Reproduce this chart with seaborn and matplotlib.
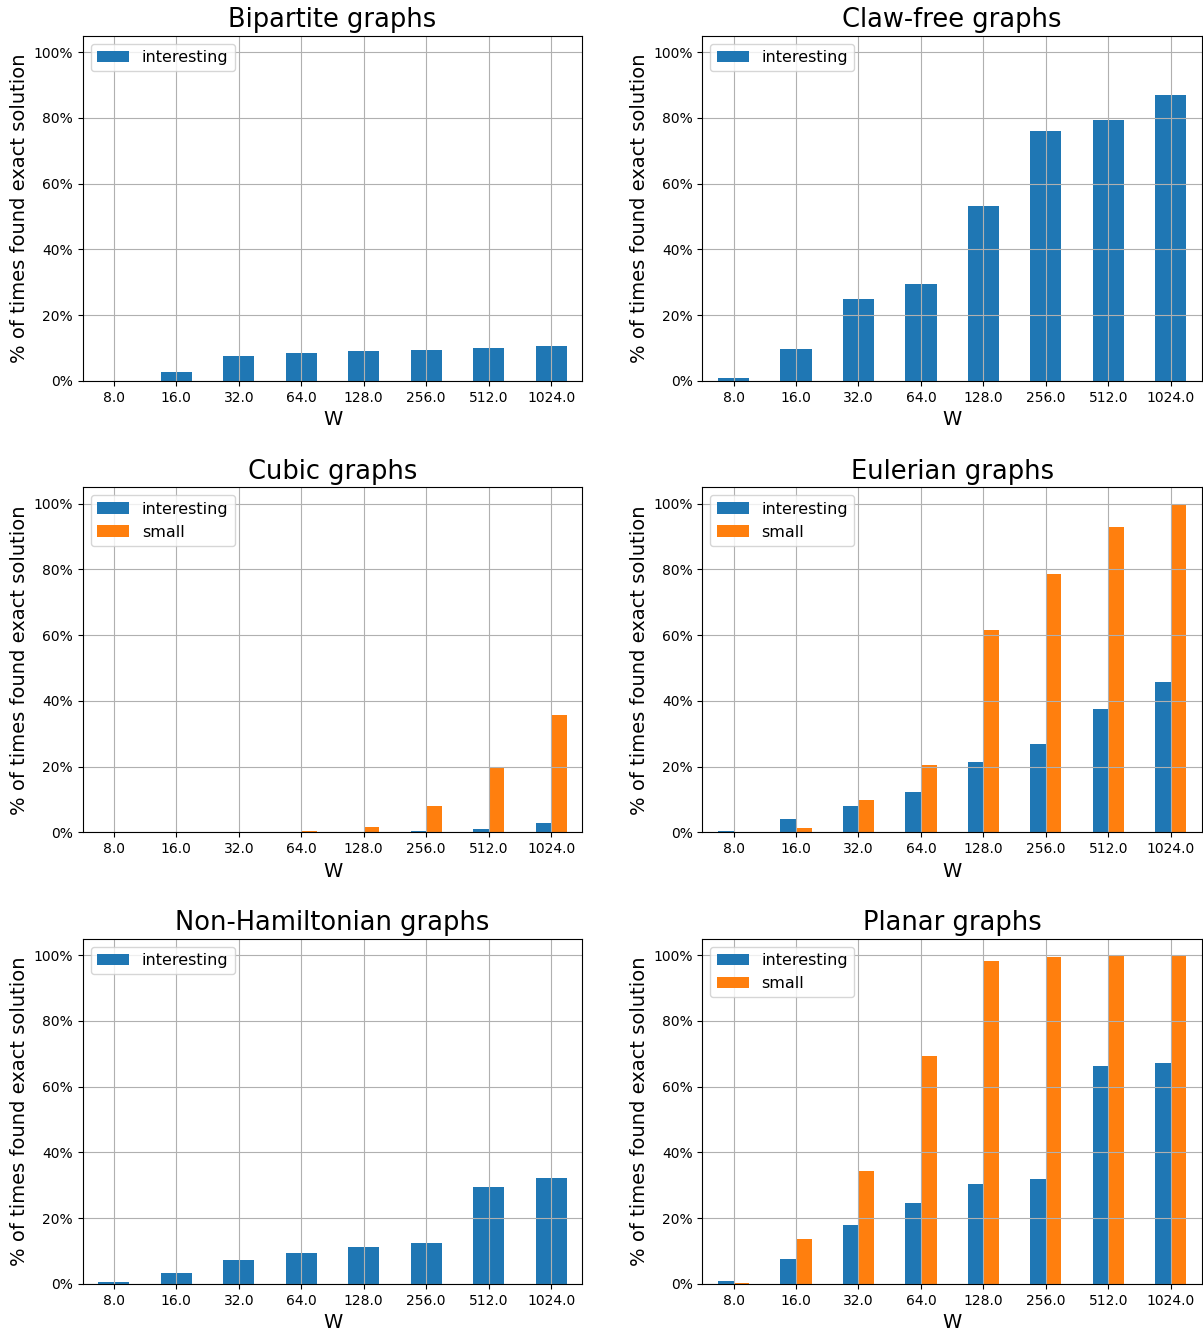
import matplotlib
matplotlib.use("Agg")
import matplotlib.pyplot as plt
import seaborn as sns
import pandas as pd
from matplotlib.ticker import PercentFormatter

W_labels = ["8.0", "16.0", "32.0", "64.0", "128.0", "256.0", "512.0", "1024.0"]

titles = ["Bipartite graphs", "Claw-free graphs", "Cubic graphs",
          "Eulerian graphs", "Non-Hamiltonian graphs", "Planar graphs"]

bipartite_interesting = [0.0, 2.75, 7.65, 8.57, 9.2, 9.5, 10.1, 10.7]
clawfree_interesting = [0.9, 9.8, 24.8, 29.6, 53.1, 76.0, 79.4, 87.0]
cubic_interesting = [0.0, 0.0, 0.0, 0.0, 0.0, 0.5, 1.1, 2.9]
cubic_small = [0.0, 0.0, 0.0, 0.5, 1.7, 8.1, 19.9, 35.7]
eulerian_interesting = [0.5, 4.1, 8.0, 12.3, 21.4, 26.9, 37.6, 45.8]
eulerian_small = [0.0, 1.3, 9.8, 20.5, 61.6, 78.6, 92.9, 99.6]
nonham_interesting = [0.5, 3.2, 7.2, 9.3, 11.2, 12.4, 29.4, 32.2]
planar_interesting = [0.8, 7.5, 17.8, 24.5, 30.3, 31.8, 66.2, 67.1]
planar_small = [0.2, 13.6, 34.5, 69.2, 98.1, 99.3, 100.0, 100.0]

panels = [
    {"interesting": bipartite_interesting},
    {"interesting": clawfree_interesting},
    {"interesting": cubic_interesting, "small": cubic_small},
    {"interesting": eulerian_interesting, "small": eulerian_small},
    {"interesting": nonham_interesting},
    {"interesting": planar_interesting, "small": planar_small},
]

palette = {"interesting": "#1f77b4", "small": "#ff7f0e"}

fig, axes = plt.subplots(3, 2, figsize=(12.03, 13.30), dpi=100)
fig.subplots_adjust(left=0.0687, right=0.9992, bottom=0.0346, top=0.9732,
                    wspace=0.24, hspace=0.3076)

for ax, title, series in zip(axes.flat, titles, panels):
    rows = []
    for name, vals in series.items():
        for w, v in zip(W_labels, vals):
            rows.append({"W": w, "series": name, "value": v / 100.0})
    df = pd.DataFrame(rows)
    sns.barplot(data=df, x="W", y="value", hue="series", order=W_labels,
                hue_order=list(series.keys()), palette=palette, width=0.5,
                saturation=1, errorbar=None, linewidth=0, ax=ax)
    ax.set_xlim(-0.5, 7.5)
    ax.set_ylim(0, 1.05)
    ax.set_yticks([0, 0.2, 0.4, 0.6, 0.8, 1.0])
    ax.yaxis.set_major_formatter(PercentFormatter(xmax=1, decimals=0))
    ax.grid(True, color="#b0b0b0", linewidth=0.8)
    ax.set_axisbelow("line")
    ax.set_title(title, fontsize=18.5)
    ax.set_xlabel("W", fontsize=14)
    ax.set_ylabel("% of times found exact solution", fontsize=14, labelpad=3)
    ax.tick_params(axis="both", labelsize=10)
    ax.legend(loc="upper left", fontsize=11.5)

fig.savefig("out.png", dpi=100)
